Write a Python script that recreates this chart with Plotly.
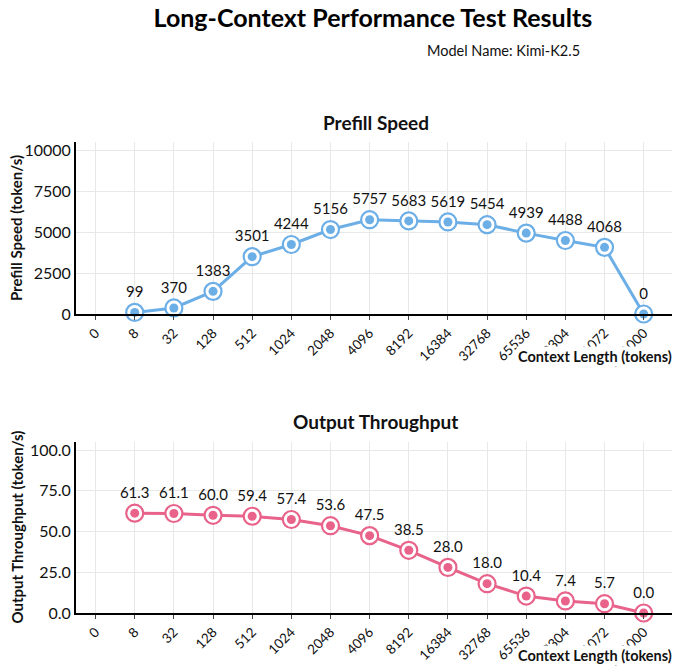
import plotly.graph_objects as go

# context lengths (category axis) and the two measured series
context_labels = ["0", "8", "32", "128", "512", "1024", "2048", "4096", "8192",
                  "16384", "32768", "65536", "98304", "131072", "201000"]
prefill_speed = [None, 99, 370, 1383, 3501, 4244, 5156, 5757, 5683, 5619,
                 5454, 4939, 4488, 4068, 0]
output_tput = [None, 61.3, 61.1, 60.0, 59.4, 57.4, 53.6, 47.5, 38.5, 28.0,
               18.0, 10.4, 7.4, 5.7, 0.0]

BLUE = "#6caee6"
PINK = "#e8628a"
FONT = "Lato"

fig = go.Figure()

def add_series(y, color, fmt, xa, ya):
	txt = ["" if v is None else fmt.format(v) for v in y]
	fig.add_trace(go.Scatter(x=context_labels, y=y, mode="lines+markers+text",
		line=dict(color=color, width=3),
		marker=dict(size=17, color="white", line=dict(color=color, width=2.2)),
		text=txt, textposition="top center",
		textfont=dict(size=15, color="#111"),
		xaxis=xa, yaxis=ya, showlegend=False, cliponaxis=False))
	fig.add_trace(go.Scatter(x=context_labels, y=y, mode="markers",
		marker=dict(size=9, color=color),
		xaxis=xa, yaxis=ya, showlegend=False, cliponaxis=False))

add_series(prefill_speed, BLUE, "{:.0f}", "x", "y")
add_series(output_tput, PINK, "{:.1f}", "x2", "y2")

xcommon = dict(type="category", range=[-0.5, 14.8], tickangle=-45,
	showline=True, linecolor="black", linewidth=2,
	ticks="outside", ticklen=4, tickcolor="#444",
	showgrid=True, gridcolor="#e8e8e8", gridwidth=1, automargin=False,
	tickfont=dict(size=13.5, color="#111"), zeroline=False)
ycommon = dict(showline=True, linecolor="black", linewidth=2,
	showgrid=True, gridcolor="#e8e8e8", zeroline=False, automargin=False,
	tickfont=dict(size=16, color="#111"), ticks="")

# the page body has an 8px margin, so the figure is sized 8px smaller
fig.update_layout(
	width=672, height=662,
	margin=dict(l=68, r=5, t=32, b=30),
	paper_bgcolor="white", plot_bgcolor="white",
	font=dict(family=FONT, color="#111"),
	title=dict(text="<b>Long-Context Performance Test Results</b>",
		x=0.543, xanchor="center", y=0.984, yanchor="middle",
		font=dict(size=25, color="black")),
	xaxis=dict(domain=[0, 1], anchor="y", **xcommon),
	yaxis=dict(domain=[0.5433, 0.83], anchor="x", range=[0, 10500],
		tickvals=[0, 2500, 5000, 7500, 10000], tickformat="d", **ycommon),
	xaxis2=dict(domain=[0, 1], anchor="y2", **xcommon),
	yaxis2=dict(domain=[0.045, 0.33], anchor="x2", range=[0, 105],
		tickvals=[0, 25, 50, 75, 100], tickformat=".1f", **ycommon),
)

notes = [
	dict(text="Model Name: Kimi-K2.5", x=0.713, y=0.983, font=dict(size=14.5)),
	dict(text="<b>Prefill Speed</b>", x=0.5, y=0.8617, font=dict(size=19)),
	dict(text="<b>Output Throughput</b>", x=0.5, y=0.365, font=dict(size=19)),
	dict(text="<b>Prefill Speed (token/s)</b>", x=-0.1, y=0.6867,
		textangle=-90, font=dict(size=15)),
	dict(text="<b>Output Throughput (token/s)</b>", x=-0.1, y=0.1875,
		textangle=-90, font=dict(size=15)),
	dict(text="<b>Context Length (tokens)</b>", x=0.998, y=0.4717,
		xanchor="right", bgcolor="white", borderpad=1, font=dict(size=14.5)),
	dict(text="<b>Context Length (tokens)</b>", x=0.998, y=-0.025,
		xanchor="right", bgcolor="white", borderpad=1, font=dict(size=14.5)),
]
for a in notes:
	a.setdefault("xanchor", "center")
	fig.add_annotation(xref="paper", yref="paper", yanchor="middle",
		showarrow=False, **a)

fig.write_html("out.html")
